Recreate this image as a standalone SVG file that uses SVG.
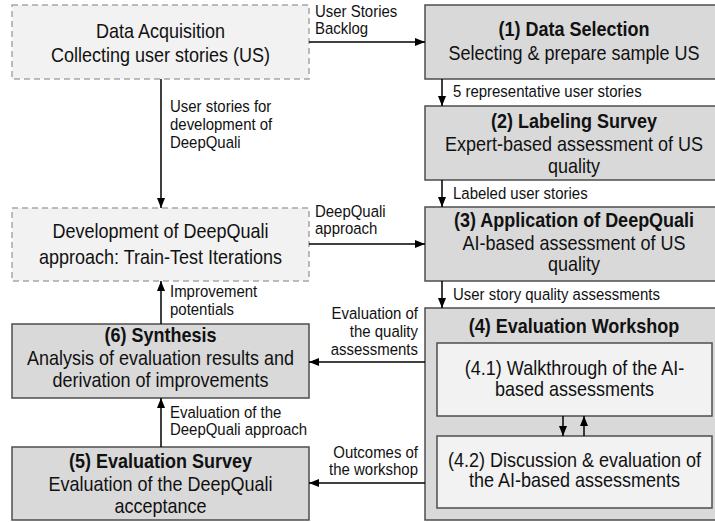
<svg xmlns="http://www.w3.org/2000/svg" width="715" height="522" viewBox="0 0 715 522">
<defs>
<marker id="ah" viewBox="0 0 10 8" refX="10" refY="4" markerWidth="10" markerHeight="8" markerUnits="userSpaceOnUse" orient="auto">
<path d="M0,0 L10,4 L0,8 Z" fill="#000"/>
</marker>
<style>
.dash{fill:#f2f2f2;stroke:#a6a6a6;stroke-width:1.5;stroke-dasharray:6,4}
.box{fill:#d9d9d9;stroke:#4d4d4d;stroke-width:1.5}
.inner{fill:#f2f2f2;stroke:#4d4d4d;stroke-width:1.5}
.t{font-family:"Liberation Sans",Arial,sans-serif;font-size:20px;fill:#111;text-anchor:middle}
.b{font-weight:bold}
.l{font-family:"Liberation Sans",Arial,sans-serif;font-size:17px;fill:#111}
.r{text-anchor:end}
.c{fill:none;stroke:#000;stroke-width:1.5;marker-end:url(#ah)}
</style>
</defs>
<rect width="715" height="522" fill="#fff"/>

<g id="acq">
<rect class="dash" x="12" y="5" width="297" height="74"/>
<g transform="matrix(0.9,0,0,1,160.5,0)">
<text class="t" x="0" y="38">Data Acquisition</text>
<text class="t" x="0" y="62">Collecting user stories (US)</text>
</g>
</g>

<g id="dev">
<rect class="dash" x="12" y="208" width="297" height="73"/>
<g transform="matrix(0.9,0,0,1,160.5,0)">
<text class="t" x="0" y="238">Development of DeepQuali</text>
<text class="t" x="0" y="264">approach: Train-Test Iterations</text>
</g>
</g>

<g id="n6">
<rect class="box" x="12" y="324" width="297" height="74"/>
<g transform="matrix(0.9,0,0,1,160.5,0)">
<text class="t b" x="0" y="342">(6) Synthesis</text>
<text class="t" x="0" y="365">Analysis of evaluation results and</text>
<text class="t" x="0" y="387">derivation of improvements</text>
</g>
</g>

<g id="n5">
<rect class="box" x="12" y="447" width="297" height="73"/>
<g transform="matrix(0.9,0,0,1,160.5,0)">
<text class="t b" x="0" y="468">(5) Evaluation Survey</text>
<text class="t" x="0" y="491">Evaluation of the DeepQuali</text>
<text class="t" x="0" y="513">acceptance</text>
</g>
</g>

<g id="n1">
<rect class="box" x="425" y="5" width="298" height="74"/>
<g transform="matrix(0.9,0,0,1,574,0)">
<text class="t b" x="0" y="36">(1) Data Selection</text>
<text class="t" x="0" y="60">Selecting &amp; prepare sample US</text>
</g>
</g>

<g id="n2">
<rect class="box" x="425" y="106" width="298" height="74"/>
<g transform="matrix(0.9,0,0,1,574,0)">
<text class="t b" x="0" y="128">(2) Labeling Survey</text>
<text class="t" x="0" y="151">Expert-based assessment of US</text>
<text class="t" x="0" y="173">quality</text>
</g>
</g>

<g id="n3">
<rect class="box" x="425" y="207" width="298" height="74"/>
<g transform="matrix(0.9,0,0,1,574,0)">
<text class="t b" x="0" y="227">(3) Application of DeepQuali</text>
<text class="t" x="0" y="250">AI-based assessment of US</text>
<text class="t" x="0" y="271">quality</text>
</g>
</g>

<g id="n4">
<rect class="box" x="425" y="308" width="298" height="212"/>
<g transform="matrix(0.9,0,0,1,574,0)">
<text class="t b" x="0" y="333">(4) Evaluation Workshop</text>
</g>
</g>

<g id="n41">
<rect class="inner" x="437" y="343" width="275" height="73"/>
<g transform="matrix(0.9,0,0,1,574.5,0)">
<text class="t" x="0" y="375">(4.1) Walkthrough of the AI-</text>
<text class="t" x="0" y="396">based assessments</text>
</g>
</g>

<g id="n42">
<rect class="inner" x="437" y="436" width="275" height="72"/>
<g transform="matrix(0.9,0,0,1,574.5,0)">
<text class="t" x="0" y="467">(4.2) Discussion &amp; evaluation of</text>
<text class="t" x="0" y="487">the AI-based assessments</text>
</g>
</g>

<g id="connectors">
<line class="c" x1="309" y1="42" x2="425" y2="42"/>
<line class="c" x1="161" y1="79" x2="161" y2="208"/>
<line class="c" x1="442" y1="79" x2="442" y2="106"/>
<line class="c" x1="442" y1="180" x2="442" y2="207"/>
<line class="c" x1="309" y1="244" x2="425" y2="244"/>
<line class="c" x1="442" y1="281" x2="442" y2="308"/>
<line class="c" x1="161" y1="324" x2="161" y2="281"/>
<line class="c" x1="425" y1="362" x2="309" y2="362"/>
<line class="c" x1="161" y1="447" x2="161" y2="398"/>
<line class="c" x1="425" y1="483" x2="309" y2="483"/>
<line class="c" x1="563" y1="416" x2="563" y2="436"/>
<line class="c" x1="584" y1="436" x2="584" y2="416"/>

<g transform="matrix(0.88,0,0,1,315,0)">
<text class="l" x="0" y="17">User Stories</text>
<text class="l" x="0" y="34">Backlog</text>
<text class="l" x="0" y="217">DeepQuali</text>
<text class="l" x="0" y="234">approach</text>
</g>
<g transform="matrix(0.88,0,0,1,170,0)">
<text class="l" x="0" y="112">User stories for</text>
<text class="l" x="0" y="130">development of</text>
<text class="l" x="0" y="148">DeepQuali</text>
<text class="l" x="0" y="297">Improvement</text>
<text class="l" x="0" y="315">potentials</text>
<text class="l" x="0" y="418">Evaluation of the</text>
<text class="l" x="0" y="435">DeepQuali approach</text>
</g>
<g transform="matrix(0.88,0,0,1,453,0)">
<text class="l" x="0" y="97">5 representative user stories</text>
<text class="l" x="0" y="199">Labeled user stories</text>
<text class="l" x="0" y="300">User story quality assessments</text>
</g>
<g transform="matrix(0.88,0,0,1,418,0)">
<text class="l r" x="0" y="319">Evaluation of</text>
<text class="l r" x="0" y="337">the quality</text>
<text class="l r" x="0" y="355">assessments</text>
<text class="l r" x="0" y="458">Outcomes of</text>
<text class="l r" x="0" y="475">the workshop</text>
</g>
</g>
</svg>
